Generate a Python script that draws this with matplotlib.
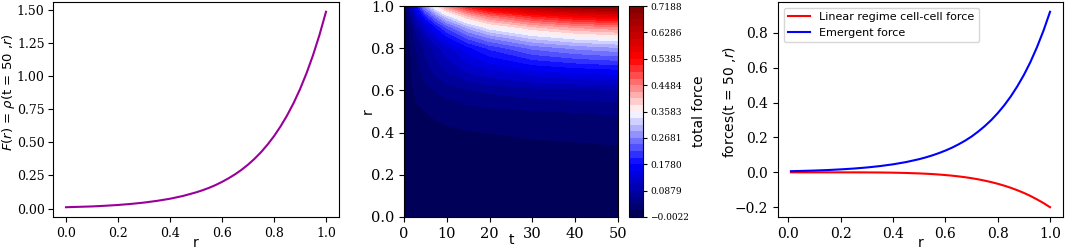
import numpy as np
import matplotlib
matplotlib.use("Agg")
import matplotlib.pyplot as plt

# ---- panel 1: F(r) = rho(t=50, r)
r_profile = [0.00, 0.05, 0.10, 0.15, 0.20, 0.25, 0.30, 0.35, 0.40, 0.45, 0.50,
             0.525, 0.55, 0.575, 0.60, 0.625, 0.65, 0.675, 0.70, 0.725, 0.75, 0.775,
             0.80, 0.825, 0.85, 0.875, 0.90, 0.925, 0.95, 0.975, 1.00]
F_profile = [0.010, 0.013, 0.016, 0.021, 0.027, 0.035, 0.045, 0.058, 0.074, 0.095, 0.122,
             0.138, 0.156, 0.177, 0.201, 0.228, 0.258, 0.292, 0.331, 0.375, 0.425, 0.482,
             0.546, 0.619, 0.701, 0.794, 0.900, 1.020, 1.156, 1.310, 1.484]

# ---- panel 2: total force over (t, r)
t_grid = [0, 0.5, 1, 2, 3, 5, 7.5, 10, 15, 20, 30, 40, 50]
r_grid = [0.0, 0.1, 0.2, 0.3, 0.4, 0.5, 0.6, 0.7, 0.8, 0.85, 0.9, 0.95, 1.0]
total_force = [
    [-0.0022, 0, 0, 0, 0, 0, 0, 0, 0, 0, 0, 0, 0],
    [0, 0, 0, 0, 0, 0.0005, 0.001, 0.001, 0.0015, 0.0015, 0.002, 0.002, 0.002],
    [0, 0, 0, 0, 0.001, 0.002, 0.0025, 0.003, 0.004, 0.0045, 0.005, 0.0055, 0.006],
    [0, 0, 0, 0.001, 0.002, 0.004, 0.006, 0.007, 0.009, 0.010, 0.012, 0.013, 0.015],
    [0, 0, 0.001, 0.004, 0.007, 0.011, 0.014, 0.016, 0.019, 0.0205, 0.024, 0.026, 0.028],
    [0, 0.0005, 0.003, 0.010, 0.015, 0.020, 0.025, 0.029, 0.034, 0.037, 0.041, 0.044, 0.046],
    [0, 0.001, 0.005, 0.019, 0.027, 0.036, 0.045, 0.052, 0.063, 0.070, 0.079, 0.084, 0.088],
    [0, 0.002, 0.008, 0.022, 0.035, 0.055, 0.075, 0.092, 0.118, 0.135, 0.158, 0.170, 0.178],
    [0, 0.004, 0.012, 0.030, 0.045, 0.072, 0.100, 0.125, 0.170, 0.205, 0.250, 0.272, 0.285],
    [0, 0.005, 0.013, 0.035, 0.058, 0.095, 0.135, 0.170, 0.230, 0.270, 0.320, 0.345, 0.358],
    [0, 0.008, 0.020, 0.050, 0.080, 0.130, 0.180, 0.230, 0.300, 0.350, 0.400, 0.430, 0.445],
    [0, 0.015, 0.035, 0.080, 0.120, 0.190, 0.260, 0.320, 0.400, 0.450, 0.510, 0.545, 0.565],
    [0, 0.030, 0.060, 0.120, 0.180, 0.280, 0.370, 0.440, 0.530, 0.590, 0.660, 0.700, 0.7188],
]
force_min, force_max = -0.0022, 0.7188
cbar_labels = ["\u22120.0022", "0.0879", "0.1780", "0.2681", "0.3583",
               "0.4484", "0.5385", "0.6286", "0.7188"]

# ---- panel 3: forces at t=50
r_forces = [0.01, 0.05, 0.10, 0.15, 0.20, 0.25, 0.30, 0.35, 0.40, 0.45, 0.50,
            0.525, 0.55, 0.575, 0.60, 0.625, 0.65, 0.675, 0.70, 0.725, 0.75, 0.775,
            0.80, 0.825, 0.85, 0.875, 0.90, 0.925, 0.95, 0.975, 1.00]
linear_force = [0.0, 0.0, 0.0, 0.0, -0.0001, -0.0002, -0.0005, -0.001, -0.002, -0.0037, -0.0063,
                -0.008, -0.010, -0.0126, -0.0156, -0.0191, -0.0232, -0.028, -0.0336, -0.040, -0.0475,
                -0.0559, -0.0655, -0.0764, -0.0887, -0.1026, -0.118, -0.1354, -0.155, -0.1762, -0.200]
emergent_force = [0.0065, 0.008, 0.0102, 0.013, 0.0169, 0.0216, 0.0278, 0.0357, 0.0458, 0.0588, 0.0755,
                  0.0856, 0.097, 0.110, 0.1246, 0.141, 0.160, 0.181, 0.205, 0.233, 0.264,
                  0.299, 0.339, 0.384, 0.435, 0.493, 0.558, 0.632, 0.717, 0.812, 0.920]

W, H = 1065, 249
fig = plt.figure(figsize=(W / 100, H / 100), dpi=100)


def px(left, top, right, bottom):
    return [left / W, 1 - bottom / H, (right - left) / W, (bottom - top) / H]


def serif_ticks(ax, size):
    for lab in ax.get_xticklabels() + ax.get_yticklabels():
        lab.set_fontfamily("DejaVu Serif")
        lab.set_fontsize(size)


lab_fs = 10

# Panel 1
ax1 = fig.add_axes(px(53, 2, 339, 217))
ax1.plot(r_profile, F_profile, color="#990099", lw=1.5)
ax1.set_xticks([0.0, 0.2, 0.4, 0.6, 0.8, 1.0])
ax1.set_yticks([0.0, 0.25, 0.5, 0.75, 1.0, 1.25, 1.5])
ax1.tick_params(axis="y", pad=2.5)
ax1.set_xlabel("r", fontsize=lab_fs)
ax1.set_ylabel(r"$F(r)$ = $\rho$(t = 50 ,$r$)", fontsize=9.5)
ax1.xaxis.set_label_coords(0.5, -0.09)
ax1.yaxis.set_label_coords(-0.125, 0.58)
serif_ticks(ax1, 9)

# Panel 2
ax2 = fig.add_axes(px(404, 6, 618, 217))
levels = np.linspace(force_min, force_max, 33)
cs = ax2.contourf(t_grid, r_grid, np.array(total_force), levels=levels, cmap="seismic")
ax2.set_xticks([0, 10, 20, 30, 40, 50])
ax2.set_yticks([0.0, 0.2, 0.4, 0.6, 0.8, 1.0])
ax2.set_xlabel("t", fontsize=lab_fs)
ax2.set_ylabel("r", fontsize=lab_fs)
ax2.xaxis.set_label_coords(0.5, -0.075)
ax2.yaxis.set_label_coords(-0.136, 0.5)
serif_ticks(ax2, 10.5)

cax = fig.add_axes(px(629, 6, 643, 217))
cbar = fig.colorbar(cs, cax=cax)
cbar.set_ticks(levels[::4])
cbar.set_ticklabels(cbar_labels)
cbar.set_label("total force", fontsize=lab_fs)
cax.tick_params(length=3, pad=2)
cax.yaxis.set_label_coords(4.5, 0.5)
for lab in cax.get_yticklabels():
    lab.set_fontfamily("DejaVu Serif")
    lab.set_fontsize(6.5)

# Panel 3
ax3 = fig.add_axes(px(778, 2, 1063, 217))
ax3.plot(r_forces, linear_force, color="red", lw=1.5, label="Linear regime cell-cell force")
ax3.plot(r_forces, emergent_force, color="blue", lw=1.5, label="Emergent force")
ax3.set_xticks([0.0, 0.2, 0.4, 0.6, 0.8, 1.0])
ax3.set_yticks([-0.2, 0.0, 0.2, 0.4, 0.6, 0.8])
ax3.set_xlabel("r", fontsize=lab_fs)
ax3.set_ylabel(r"forces(t = 50 ,$r$)", fontsize=lab_fs)
ax3.xaxis.set_label_coords(0.5, -0.09)
ax3.yaxis.set_label_coords(-0.14, 0.535)
ax3.legend(loc="upper left", fontsize=8, handlelength=2)
serif_ticks(ax3, 10)

fig.savefig("out.png", dpi=100)
